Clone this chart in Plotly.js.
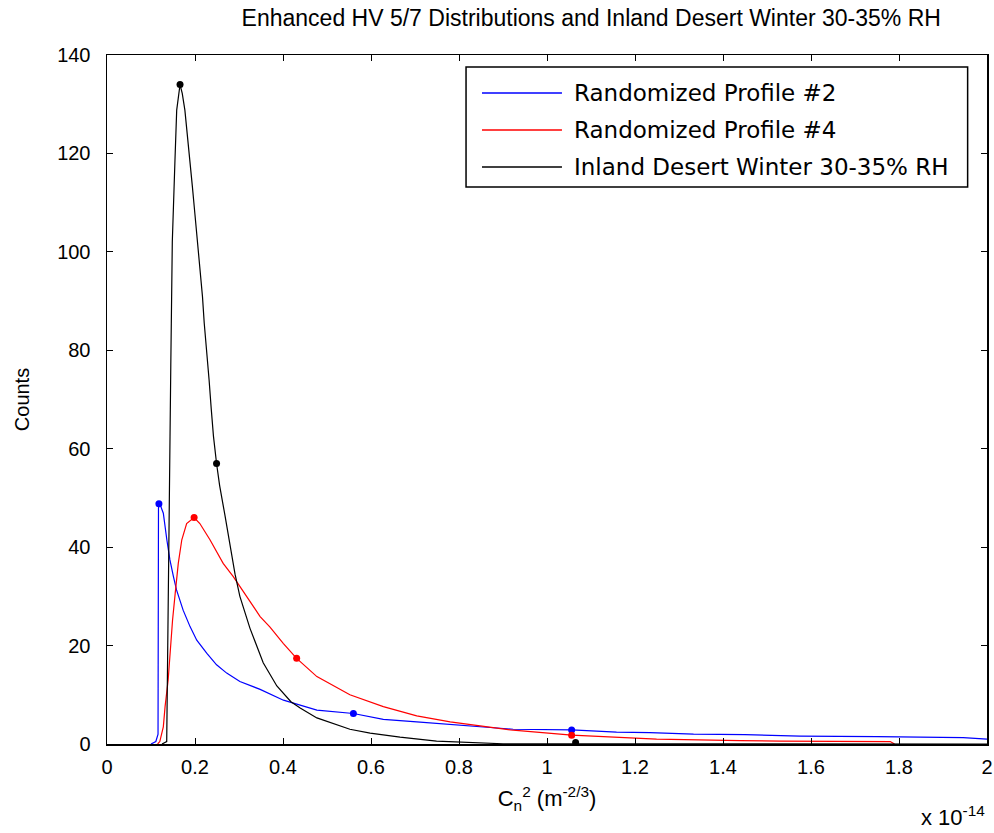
<!DOCTYPE html>
<html>
<head>
<meta charset="utf-8">
<script src="https://cdn.plot.ly/plotly-3.0.1.min.js"></script>
<style>html,body{margin:0;padding:0;background:#fff;}#chart{width:994px;height:833px;}</style>
</head>
<body>
<div id="chart"></div>
<script>
// x values are in units of 1e-14 m^(-2/3)
const prof2X = [0.100, 0.111, 0.116, 0.117, 0.120, 0.128, 0.136, 0.143, 0.151, 0.158, 0.173, 0.189, 0.204, 0.227, 0.249, 0.272, 0.302, 0.348, 0.401, 0.477, 0.560, 0.628, 0.704, 0.780, 0.848, 0.923, 1.056, 1.158, 1.234, 1.333, 1.45, 1.575, 1.75, 1.946, 2.0];
const prof2Y = [0, 0.5, 2, 48, 48.8, 46.9, 41.5, 37.4, 34.0, 31.3, 27.2, 23.8, 21.1, 18.4, 16.1, 14.4, 12.7, 11.1, 8.9, 6.9, 6.2, 5.0, 4.5, 4.0, 3.6, 3.0, 2.85, 2.4, 2.3, 2.0, 1.9, 1.6, 1.5, 1.3, 1.0];

const prof4X = [0.115, 0.120, 0.128, 0.132, 0.139, 0.145, 0.149, 0.155, 0.162, 0.170, 0.181, 0.198, 0.211, 0.234, 0.264, 0.287, 0.318, 0.348, 0.370, 0.401, 0.431, 0.477, 0.552, 0.628, 0.704, 0.780, 0.848, 0.923, 1.056, 1.135, 1.249, 1.439, 1.53, 1.78, 1.79];
const prof4Y = [0, 0.5, 3.5, 7.6, 13.0, 20.5, 25.2, 30.6, 36.7, 41.5, 44.8, 46.0, 44.8, 41.5, 36.7, 34.0, 29.9, 25.9, 23.8, 20.4, 17.4, 13.7, 10.0, 7.6, 5.7, 4.5, 3.7, 2.8, 1.8, 1.5, 1.0, 0.7, 0.6, 0.5, 0];

const desertX = [0.125, 0.1357, 0.145, 0.1484, 0.1545, 0.1584, 0.166, 0.171, 0.177, 0.183, 0.189, 0.194, 0.200, 0.206, 0.211, 0.217, 0.221, 0.227, 0.232, 0.237, 0.242, 0.249, 0.256, 0.268, 0.280, 0.291, 0.302, 0.325, 0.355, 0.386, 0.418, 0.439, 0.477, 0.514, 0.552, 0.598, 0.666, 0.749, 0.878, 0.90, 2.0];
const desertY = [0, 0.5, 77, 102, 118.7, 128.8, 134.0, 132.2, 128.8, 123.8, 118.7, 113.3, 107.5, 101.8, 96.3, 90.9, 85.5, 80.0, 74.0, 68.0, 62.5, 57.0, 52.5, 46.5, 40.1, 34.5, 30.0, 23.5, 16.5, 11.8, 8.6, 7.3, 5.3, 4.2, 3.0, 2.2, 1.4, 0.6, 0.2, 0.05, 0];

// highlighted points on each curve
const prof2MarkX = [0.118, 0.560, 1.056];
const prof2MarkY = [48.8, 6.2, 2.85];
const prof4MarkX = [0.198, 0.431, 1.056];
const prof4MarkY = [46.0, 17.4, 1.8];
const desertMarkX = [0.166, 0.249, 1.065];
const desertMarkY = [134.0, 57.0, 0.3];

const names = ['Randomized Profile #2', 'Randomized Profile #4', 'Inland Desert Winter 30-35% RH'];
const colors = ['#0000ff', '#ff0000', '#000000'];
const xTicks = [0, 0.2, 0.4, 0.6, 0.8, 1, 1.2, 1.4, 1.6, 1.8, 2];
const yTicks = [0, 20, 40, 60, 80, 100, 120, 140];

const lineX = [prof2X, prof4X, desertX];
const lineY = [prof2Y, prof4Y, desertY];
const markX = [prof2MarkX, prof4MarkX, desertMarkX];
const markY = [prof2MarkY, prof4MarkY, desertMarkY];

const traces = [];
for (let i = 0; i < 3; i++) {
  traces.push({x: lineX[i], y: lineY[i], type: 'scatter', mode: 'lines', name: names[i],
    showlegend: false, line: {color: colors[i], width: 1.2}});
}
for (let i = 0; i < 3; i++) {
  traces.push({x: markX[i], y: markY[i], type: 'scatter', mode: 'markers', showlegend: false,
    marker: {color: colors[i], size: 7}, hoverinfo: 'skip'});
}

// legend box drawn in paper coordinates (MATLAB-style long line samples)
const legendFont = {family: 'DejaVu Sans, sans-serif', size: 23, color: '#000'};
const legBox = {x0: 0.408, x1: 0.978, y0: 0.8084, y1: 0.9826};
const legLineX0 = 0.4261, legLineX1 = 0.517, legTextX = 0.5284;
const legRowY = [0.9448, 0.8911, 0.8374];
const shapes = [{type: 'rect', xref: 'paper', yref: 'paper', x0: legBox.x0, x1: legBox.x1, y0: legBox.y0, y1: legBox.y1,
  line: {color: '#000', width: 1.5}, fillcolor: '#fff', layer: 'above'}];
const annotations = [];
for (let i = 0; i < 3; i++) {
  shapes.push({type: 'line', xref: 'paper', yref: 'paper', x0: legLineX0, x1: legLineX1, y0: legRowY[i], y1: legRowY[i],
    line: {color: colors[i], width: 1.5}, layer: 'above'});
  annotations.push({xref: 'paper', yref: 'paper', x: legTextX, xanchor: 'left', y: legRowY[i], yanchor: 'middle',
    text: names[i], showarrow: false, font: legendFont});
}

const tickFont = {family: 'Liberation Sans, Arial, sans-serif', size: 20, color: '#000'};
const labelFont = {family: 'Liberation Sans, Arial, sans-serif', size: 22, color: '#000'};
annotations.push({xref: 'paper', yref: 'paper', x: 1, xanchor: 'right', y: -0.105, yanchor: 'middle',
  text: 'x 10<sup>-14</sup>', showarrow: false, font: labelFont});

const layout = {
  width: 994, height: 833,
  margin: {l: 107, r: 7, t: 55, b: 89},
  paper_bgcolor: '#fff', plot_bgcolor: '#fff',
  showlegend: false,
  title: {text: 'Enhanced HV 5/7 Distributions and Inland Desert Winter 30-35% RH',
    font: {family: 'Liberation Sans, Arial, sans-serif', size: 23, color: '#000'},
    x: 0.5503, xanchor: 'center', y: 0.978, yanchor: 'middle', xref: 'paper'},
  xaxis: {range: [0, 2], tickvals: xTicks, ticktext: xTicks.map(String), ticks: 'inside', ticklen: 6,
    tickcolor: '#000', showline: true, linecolor: '#000', linewidth: 1.5, mirror: 'ticks',
    showgrid: false, zeroline: false, tickfont: tickFont, ticklabelstandoff: 4,
    title: {text: 'C<sub>n</sub><sup>2</sup> (m<sup>-2/3</sup>)', font: labelFont, standoff: 14}},
  yaxis: {range: [0, 140], tickvals: yTicks, ticks: 'inside', ticklen: 6,
    tickcolor: '#000', showline: true, linecolor: '#000', linewidth: 1.5, mirror: 'ticks',
    showgrid: false, zeroline: false, tickfont: tickFont, ticklabelstandoff: 11,
    title: {text: 'Counts', font: tickFont, standoff: 22}},
  shapes: shapes,
  annotations: annotations
};

Plotly.newPlot('chart', traces, layout, {displayModeBar: false, staticPlot: true});
</script>
</body>
</html>
